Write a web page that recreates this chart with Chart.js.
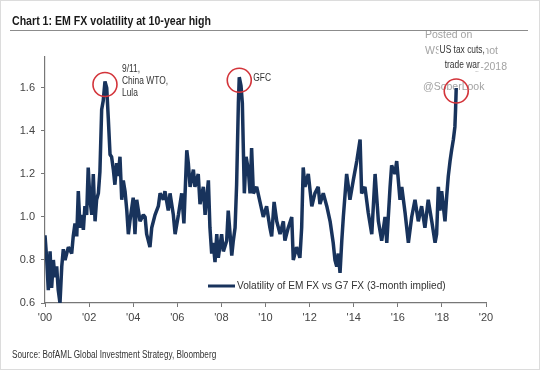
<!DOCTYPE html>
<html>
<head>
<meta charset="utf-8">
<script src="https://cdn.jsdelivr.net/npm/chart.js@4.4.1/dist/chart.umd.min.js"></script>
<style>
html,body{margin:0;padding:0;background:#fff;}
#wrap{position:relative;width:540px;height:370px;overflow:hidden;}
#frame{position:absolute;left:0;top:0;width:540px;height:370px;box-sizing:border-box;border:1px solid #dcdcdc;pointer-events:none;}
#title{position:absolute;left:12px;top:13px;font:bold 13px 'Liberation Sans',Arial,sans-serif;color:#1a1a1a;white-space:nowrap;transform:scaleX(0.815);transform-origin:0 50%;}
#rule{position:absolute;left:10px;top:30px;width:518px;border-top:1px solid #8c8c8c;}
#source{position:absolute;left:12px;top:349px;font:10px 'Liberation Sans',Arial,sans-serif;color:#333;white-space:nowrap;transform:scaleX(0.82);transform-origin:0 50%;}
canvas{position:absolute;left:0;top:0;}
</style>
</head>
<body>
<div id="wrap">
  <canvas id="c" width="540" height="370"></canvas>
  <div id="title">Chart 1: EM FX volatility at 10-year high</div>
  <div id="rule"></div>
  <div id="source">Source: BofAML Global Investment Strategy, Bloomberg</div>
  <div id="frame"></div>
</div>
<script>
// EM FX vs G7 FX implied vol ratio (decimal years).
const years=[
  2000.00,2000.08,2000.15,2000.23,2000.30,2000.38,2000.45,2000.53,2000.60,2000.68,2000.76,2000.83,2000.91,
  2001.06,2001.21,2001.28,2001.36,2001.44,2001.51,2001.59,2001.66,2001.74,2001.81,2001.89,2001.96,
  2002.04,2002.12,2002.19,2002.27,2002.34,2002.42,2002.49,2002.57,2002.64,2002.72,2002.80,2002.87,2002.95,
  2003.02,2003.10,2003.17,2003.25,2003.32,2003.40,2003.48,2003.55,2003.63,2003.71,2003.78,2003.85,
  2004.00,2004.08,2004.16,2004.31,2004.46,2004.54,2004.61,2004.76,2004.84,2004.99,
  2005.14,2005.22,2005.37,2005.44,2005.59,2005.67,2005.82,2005.90,
  2006.05,2006.20,2006.30,2006.43,2006.50,2006.58,2006.73,2006.80,2006.95,
  2007.03,2007.18,2007.26,2007.41,2007.48,2007.56,2007.63,2007.71,2007.79,2007.86,
  2008.01,2008.09,2008.24,2008.31,2008.47,2008.54,2008.62,2008.69,2008.77,2008.81,2008.89,2008.95,2008.99,
  2009.04,2009.12,2009.22,2009.30,2009.37,2009.45,2009.60,2009.75,2009.90,
  2010.05,2010.20,2010.28,2010.39,2010.51,2010.66,2010.81,2010.88,
  2011.03,2011.19,2011.26,2011.41,2011.56,2011.64,2011.71,2011.79,2011.94,
  2012.10,2012.24,2012.39,2012.47,2012.62,2012.78,2012.93,
  2013.07,2013.15,2013.23,2013.30,2013.38,2013.46,2013.53,2013.68,2013.76,2013.83,2013.98,
  2014.14,2014.29,2014.36,2014.51,2014.66,2014.82,2014.89,2014.97,
  2015.12,2015.27,2015.42,2015.50,2015.65,2015.72,2015.87,2015.95,
  2016.10,2016.18,2016.33,2016.48,2016.63,2016.78,2016.93,
  2017.08,2017.23,2017.38,2017.54,2017.69,2017.76,2017.84,2017.91,2017.99,
  2018.14,2018.22,2018.29,2018.37,2018.44,2018.52,2018.59,2018.62,2018.65
];
const vol=[
  0.915,0.80,0.66,0.84,0.67,0.80,0.72,0.77,0.66,0.60,0.77,0.85,0.80,
  0.86,0.83,0.91,0.97,0.91,1.12,0.95,1.01,0.94,1.05,1.01,1.23,
  1.08,1.01,1.20,0.98,1.08,1.11,1.21,1.50,1.54,1.63,1.60,1.46,1.29,
  1.28,1.22,1.15,1.25,1.19,1.28,1.08,1.17,1.12,1.03,0.92,0.98,
  1.09,0.92,1.08,0.98,1.01,1.00,0.92,0.86,0.95,1.01,
  1.05,1.11,1.08,1.12,1.03,1.11,1.01,0.92,
  1.01,1.11,0.97,1.31,1.25,1.14,1.22,1.14,1.20,
  1.06,1.14,1.01,1.17,0.95,0.83,0.88,0.79,0.92,0.81,
  0.92,0.84,0.89,1.03,0.82,0.89,0.95,1.15,1.53,1.65,1.61,1.53,1.34,
  1.11,1.28,1.22,1.11,1.32,1.11,1.14,1.07,1.00,
  1.05,0.95,0.91,1.07,0.98,0.92,0.98,0.89,
  0.95,1.00,0.80,0.86,0.81,0.95,1.23,1.14,1.20,
  1.05,1.11,1.14,1.06,1.11,1.05,0.98,
  0.88,0.80,0.77,0.83,0.74,0.89,1.00,1.20,1.14,1.08,1.17,
  1.26,1.36,1.11,1.14,1.02,0.92,1.05,1.20,
  0.98,0.89,1.00,0.88,1.14,1.24,1.20,1.26,
  1.08,1.14,1.02,0.88,1.00,1.08,0.98,
  1.05,0.95,1.08,0.98,0.88,0.92,1.14,1.03,1.12,
  0.98,1.10,1.19,1.26,1.31,1.36,1.42,1.50,1.60
];
const xTicks=[2000,2002,2004,2006,2008,2010,2012,2014,2016,2018,2020];
const yTicks=[0.6,0.8,1.0,1.2,1.4,1.6];
const seriesLabel='Volatility of EM FX vs G7 FX (3-month implied)';

// Red circles: year window to search for the peak, and the note beside it.
const peaks=[
  {from:2002,to:2004,lines:['9/11,','China WTO,','Lula'],dx:17,dy:[-15.5,-3.5,8.5],align:'left'},
  {from:2008,to:2010,lines:['GFC'],dx:14,dy:[-2],align:'left'},
  {from:2018,to:2019,lines:['US tax cuts,','trade war'],dx:6,dy:[-41,-25.5],align:'center'}
];
const watermark=['Posted on','WSJ Daily Shot','23-Aug-2018','@SoberLook'];

const SANS="'Liberation Sans',Arial,sans-serif";
const NAVY='#18335c';
const AXIS='#777';

// the original uses a condensed face; squeeze regular Liberation Sans
function narrowText(ctx,s,x,y,sx){
  ctx.save();
  ctx.translate(x,y);
  ctx.scale(sx,1);
  ctx.fillText(s,0,0);
  ctx.restore();
}

const notesPlugin={
  id:'notes',
  beforeDatasetsDraw(chart){
    const {ctx,chartArea:ca}=chart;
    ctx.save();
    ctx.font='10.5px '+SANS;
    ctx.fillStyle='#a3a3a3';
    ctx.textBaseline='middle';
    ctx.textAlign='left';
    ctx.fillText(watermark[0],ca.left+380,ca.top-22);
    ctx.fillText(watermark[1],ca.left+380,ca.top-6);
    ctx.textAlign='right';
    ctx.fillText(watermark[2],ca.left+462,ca.top+10);
    ctx.textAlign='left';
    ctx.fillText(watermark[3],ca.left+378,ca.top+30);
    ctx.restore();
  },
  afterDraw(chart){
    const {ctx,chartArea:ca,scales:{x,y}}=chart;
    ctx.save();
    peaks.forEach(p=>{
      let best=-1;
      years.forEach((t,i)=>{if(t>=p.from&&t<p.to&&(best<0||vol[i]>vol[best]))best=i;});
      const cx=x.getPixelForValue(years[best]);
      const cy=y.getPixelForValue(vol[best])+3;
      ctx.beginPath();
      ctx.arc(cx,cy,12,0,Math.PI*2);
      ctx.strokeStyle='#d3343a';
      ctx.lineWidth=1.6;
      ctx.stroke();
      ctx.font='10.5px '+SANS;
      ctx.textBaseline='middle';
      ctx.textAlign=p.align;
      p.lines.forEach((s,k)=>{
        const tx=cx+p.dx, ty=cy+p.dy[k];
        const w=ctx.measureText(s).width*0.8;
        const bx=p.align==='center'?tx-w/2:tx;
        ctx.fillStyle='#fff';
        ctx.fillRect(bx-1,ty-6,w+2,12);
        ctx.fillStyle='#333';
        narrowText(ctx,s,tx,ty,0.8);
      });
    });
    // legend inside the plot, lower right
    const lx=ca.left+163, ly=ca.bottom-17;
    ctx.beginPath();
    ctx.moveTo(lx,ly);ctx.lineTo(lx+27,ly);
    ctx.strokeStyle=NAVY;ctx.lineWidth=3;ctx.stroke();
    ctx.font='11px '+SANS;
    ctx.fillStyle='#333';
    ctx.textAlign='left';ctx.textBaseline='middle';
    narrowText(ctx,seriesLabel,lx+29,ly,0.92);
    ctx.restore();
  }
};

new Chart(document.getElementById('c'),{
  type:'line',
  data:{datasets:[{
    label:seriesLabel,
    data:years.map((t,i)=>({x:t,y:vol[i]})),
    borderColor:NAVY,borderWidth:3.5,borderJoinStyle:'bevel',
    pointRadius:0,tension:0,fill:false
  }]},
  options:{
    responsive:false,animation:false,devicePixelRatio:1,
    layout:{padding:{left:0,top:57,right:54,bottom:37}},
    plugins:{legend:{display:false},tooltip:{enabled:false}},
    scales:{
      x:{
        type:'linear',min:2000,max:2020,
        afterBuildTicks:s=>{s.ticks=xTicks.map(v=>({value:v}));},
        afterFit:s=>{s.height=30;},
        ticks:{autoSkip:false,maxRotation:0,padding:4,color:'#444',font:{family:SANS,size:11},
          callback:v=>"'"+String(v%100).padStart(2,'0')},
        grid:{drawOnChartArea:false,drawTicks:true,tickLength:4,color:AXIS},
        border:{display:true,color:AXIS,width:1.2}
      },
      y:{
        min:0.6,max:1.744,
        afterBuildTicks:s=>{s.ticks=yTicks.map(v=>({value:v}));},
        afterFit:s=>{s.width=45;},
        ticks:{padding:6,color:'#444',font:{family:SANS,size:11},callback:v=>v.toFixed(1)},
        grid:{drawOnChartArea:false,drawTicks:true,tickLength:4,color:AXIS},
        border:{display:true,color:AXIS,width:1.2}
      }
    }
  },
  plugins:[notesPlugin]
});
</script>
</body>
</html>
